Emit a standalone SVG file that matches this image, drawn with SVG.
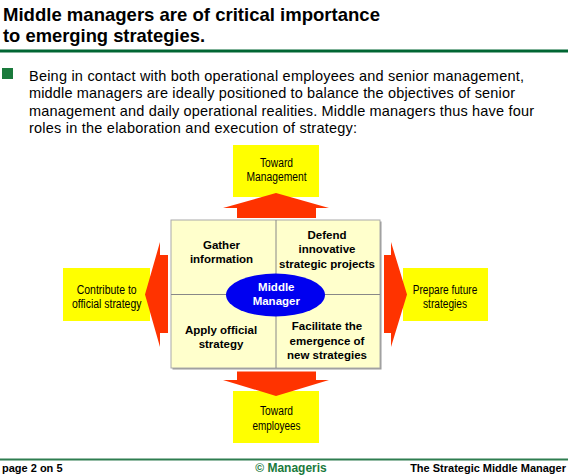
<svg xmlns="http://www.w3.org/2000/svg" width="568" height="476" viewBox="0 0 568 476">
<style>
.title{font-family:"Liberation Sans",Arial,sans-serif;font-weight:bold;font-size:18.5px;fill:#000}
.body{font-family:"Liberation Sans",Arial,sans-serif;font-size:14.5px;fill:#000}
.box{fill:#ffff00}
.lbl{font-family:"Liberation Sans Narrow","Liberation Sans",Arial,sans-serif;font-size:12.5px;fill:#000;text-anchor:middle}
.q{font-family:"Liberation Sans",Arial,sans-serif;font-weight:bold;font-size:11.5px;fill:#000;text-anchor:middle}
.mm{font-family:"Liberation Sans",Arial,sans-serif;font-weight:bold;font-size:11.5px;fill:#fff;text-anchor:middle}
.arrow{fill:#ff3300}
.foot{font-family:"Liberation Sans",Arial,sans-serif;font-weight:bold;font-size:11px;fill:#000}
</style>
<rect width="568" height="476" fill="#fff"/>
<g id="header">
<text class="title" x="3" y="21" textLength="377" lengthAdjust="spacingAndGlyphs">Middle managers are of critical importance</text>
<text class="title" x="3" y="42" textLength="202" lengthAdjust="spacingAndGlyphs">to emerging strategies.</text>
<rect x="0" y="49.5" width="568" height="3" fill="#006633"/>
</g>
<g id="intro">
<rect x="2" y="68" width="11" height="11" fill="#1a7a3c"/>
<text class="body" x="29" y="80.5" textLength="495">Being in contact with both operational employees and senior management,</text>
<text class="body" x="29" y="98" textLength="486">middle managers are ideally positioned to balance the objectives of senior</text>
<text class="body" x="29" y="115.5" textLength="505">management and daily operational realities. Middle managers thus have four</text>
<text class="body" x="29" y="133" textLength="328">roles in the elaboration and execution of strategy:</text>
</g>
<g id="grid">
<rect x="172.5" y="221.5" width="209" height="148" fill="#999"/>
<rect x="171" y="220" width="209" height="148" fill="#ffffcc" stroke="#aaa" stroke-width="1"/>
<line x1="276" y1="220" x2="276" y2="368" stroke="#888" stroke-width="1"/>
<line x1="171" y1="294.5" x2="380" y2="294.5" stroke="#888" stroke-width="1"/>
</g>
<g id="gather">
<text class="q" x="221.5" y="248.5">Gather</text>
<text class="q" x="221.5" y="262.5">information</text>
</g>
<g id="defend">
<text class="q" x="327" y="238.5">Defend</text>
<text class="q" x="327" y="253">innovative</text>
<text class="q" x="327" y="267.5">strategic projects</text>
</g>
<g id="apply">
<text class="q" x="221" y="333.5">Apply official</text>
<text class="q" x="221" y="347.5">strategy</text>
</g>
<g id="facilitate">
<text class="q" x="327" y="330">Facilitate the</text>
<text class="q" x="327" y="344.5">emergence of</text>
<text class="q" x="327" y="359">new strategies</text>
</g>
<g id="middle-manager">
<ellipse cx="275.5" cy="295" rx="49.5" ry="21.5" fill="#0000f0"/>
<text class="mm" x="276.3" y="291">Middle</text>
<text class="mm" x="276.3" y="305">Manager</text>
</g>
<g id="toward-management">
<rect class="box" x="233" y="145" width="86" height="52"/>
<text class="lbl" x="276.5" y="167" textLength="33" lengthAdjust="spacingAndGlyphs">Toward</text>
<text class="lbl" x="276.5" y="181" textLength="60" lengthAdjust="spacingAndGlyphs">Management</text>
</g>
<g id="contribute">
<rect class="box" x="63" y="268" width="87" height="53"/>
<text class="lbl" x="106.7" y="293.5" textLength="60" lengthAdjust="spacingAndGlyphs">Contribute to</text>
<text class="lbl" x="106.7" y="307.5" textLength="69.5" lengthAdjust="spacingAndGlyphs">official strategy</text>
</g>
<g id="prepare">
<rect class="box" x="403" y="268" width="85" height="53"/>
<text class="lbl" x="445" y="293.5" textLength="64.5" lengthAdjust="spacingAndGlyphs">Prepare future</text>
<text class="lbl" x="445" y="307.5" textLength="44" lengthAdjust="spacingAndGlyphs">strategies</text>
</g>
<g id="toward-employees">
<rect class="box" x="233" y="391" width="86" height="52"/>
<text class="lbl" x="276.5" y="415" textLength="33" lengthAdjust="spacingAndGlyphs">Toward</text>
<text class="lbl" x="276.5" y="429.5" textLength="48" lengthAdjust="spacingAndGlyphs">employees</text>
</g>
<g id="connectors">
<polygon class="arrow" points="237,218 237,208 223,208 276,193 329,208 316,208 316,218"/>
<polygon class="arrow" points="168,255 160,255 160,242 145,294.5 160,347 160,333 168,333"/>
<polygon class="arrow" points="384,255 391,255 391,242 407,294.5 391,347 391,333 384,333"/>
<polygon class="arrow" points="237,371.5 237,380 223,380 276,396 329,380 316,380 316,371.5"/>
</g>
<g id="footer">
<rect x="0" y="458.5" width="568" height="2" fill="#2e7d50"/>
<text class="foot" x="2" y="471.5">page 2 on 5</text>
<text class="foot" x="291" y="471.5" text-anchor="middle" style="fill:#1a7a3c;font-size:12px">© Manageris</text>
<text class="foot" x="566" y="471.5" text-anchor="end">The Strategic Middle Manager</text>
</g>
</svg>
